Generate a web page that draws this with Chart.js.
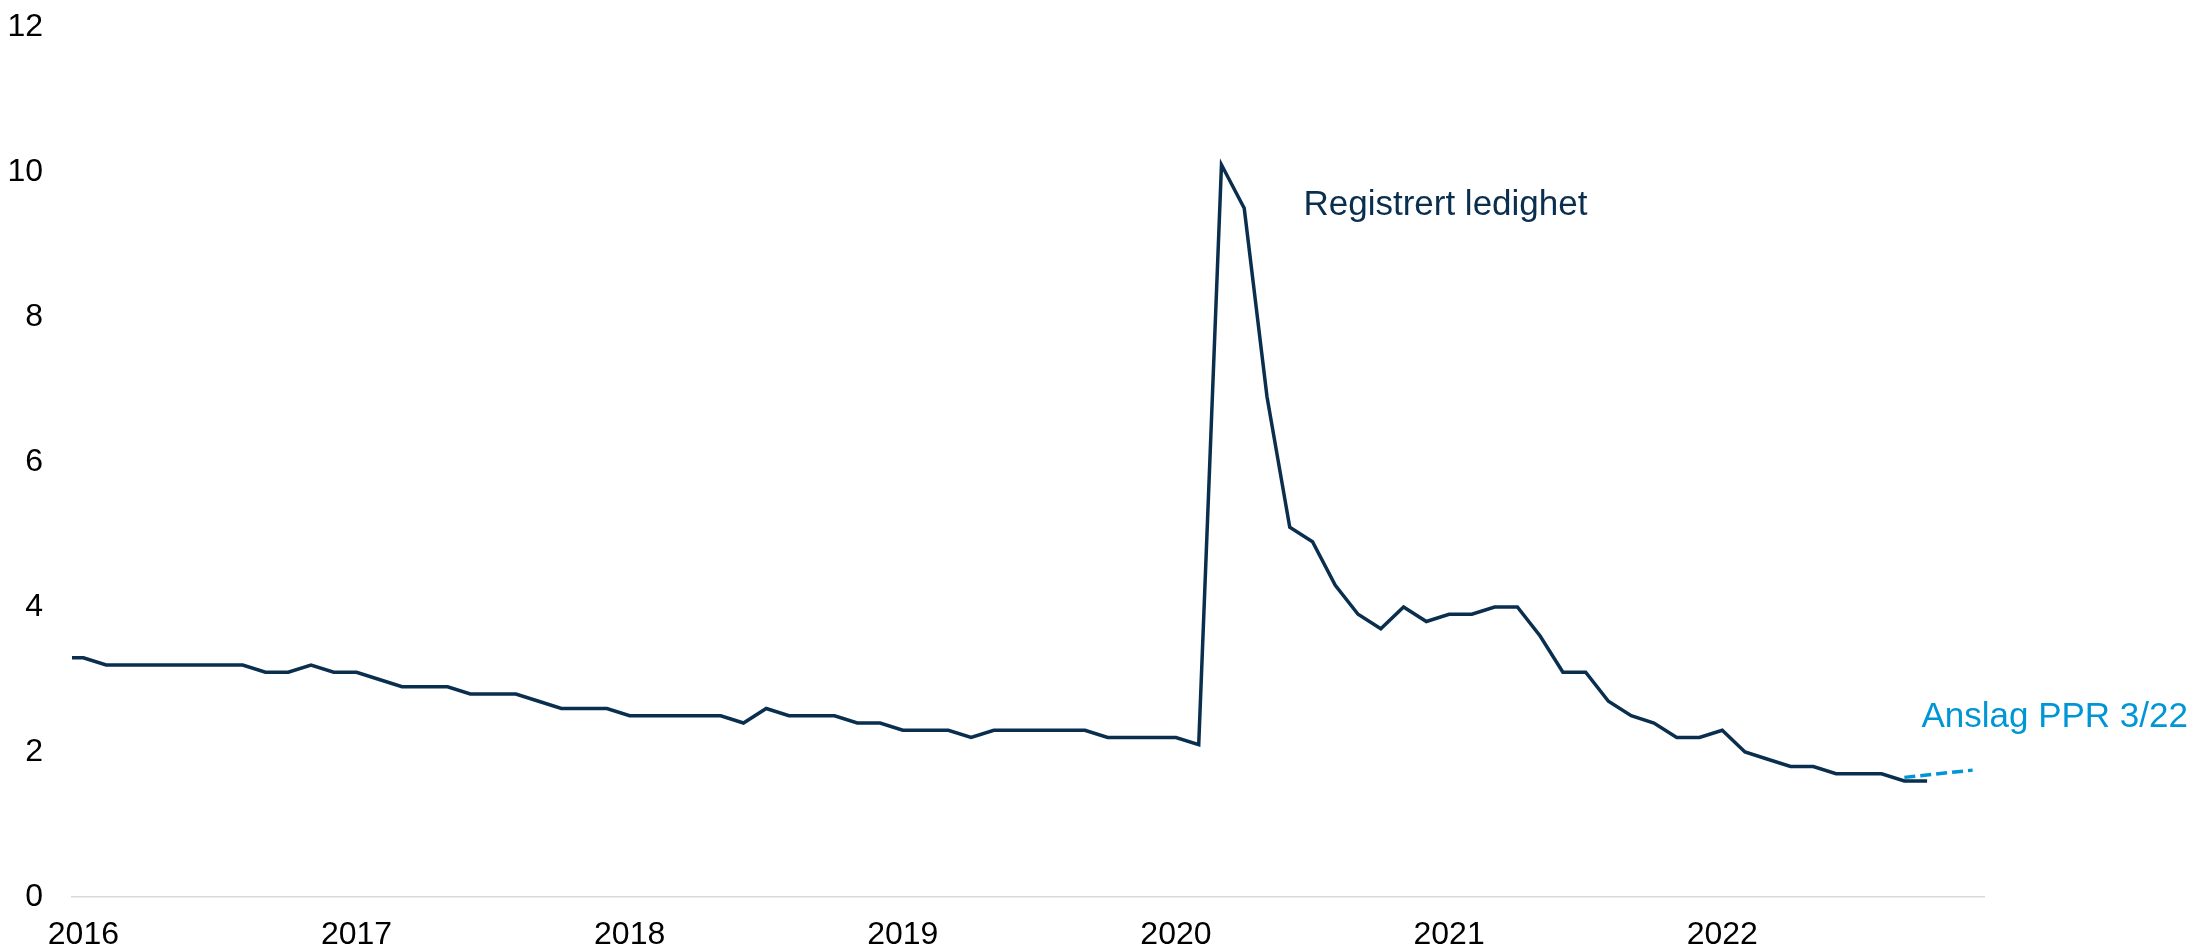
<!DOCTYPE html>
<html>
<head>
<meta charset="utf-8">
<script src="https://cdn.jsdelivr.net/npm/chart.js@4"></script>
<style>
  html, body { margin: 0; padding: 0; background: #ffffff; }
  #wrap { width: 2193px; height: 951px; }
</style>
</head>
<body>
<div id="wrap"><canvas id="ledighet" width="2193" height="951"></canvas></div>
<script>
// registrert ledighet, prosent, månedlig fra des. 2015
var firstMonth = '2015-12';
var registrertLedighet = [
    3.3,
    3.3, 3.2, 3.2, 3.2, 3.2, 3.2, 3.2, 3.2, 3.1, 3.1, 3.2, 3.1,
    3.1, 3.0, 2.9, 2.9, 2.9, 2.8, 2.8, 2.8, 2.7, 2.6, 2.6, 2.6,
    2.5, 2.5, 2.5, 2.5, 2.5, 2.4, 2.6, 2.5, 2.5, 2.5, 2.4, 2.4,
    2.3, 2.3, 2.3, 2.2, 2.3, 2.3, 2.3, 2.3, 2.3, 2.2, 2.2, 2.2,
    2.2, 2.1, 10.1, 9.5, 6.9, 5.1, 4.9, 4.3, 3.9, 3.7, 4.0, 3.8,
    3.9, 3.9, 4.0, 4.0, 3.6, 3.1, 3.1, 2.7, 2.5, 2.4, 2.2, 2.2,
    2.3, 2.0, 1.9, 1.8, 1.8, 1.7, 1.7, 1.7, 1.6, 1.6
];

// anslag PPR 3/22
var anslagMonths = ['2022-09', '2022-12'];
var anslagValues = [1.65, 1.75];

var yearLabels = ['2016', '2017', '2018', '2019', '2020', '2021', '2022'];
var yTicks = [0, 2, 4, 6, 8, 10, 12];

// month string -> index, jan 2016 = 0
function monthIndex(m) {
    var parts = m.split('-');
    return (parseInt(parts[0], 10) - 2016) * 12 + parseInt(parts[1], 10) - 1;
}

var startIdx = monthIndex(firstMonth);
var mainData = registrertLedighet.map(function (v, i) {
    return { x: startIdx + i, y: v };
});
var anslagData = anslagMonths.map(function (m, i) {
    return { x: monthIndex(m), y: anslagValues[i] };
});
var yearTicks = yearLabels.map(function (y) { return monthIndex(y + '-01'); });

var textLabels = [
    { text: 'Registrert ledighet', x: 53.6, y: 9.41, color: '#0a2e4d' },
    { text: 'Anslag PPR 3/22', x: 80.75, y: 2.35, color: '#0096d6' }
];

const labelPlugin = {
    id: 'textLabels',
    afterDatasetsDraw(chart) {
        const { ctx, scales } = chart;
        ctx.save();
        ctx.font = "35px 'Liberation Sans', Arial, sans-serif";
        ctx.textAlign = 'left';
        ctx.textBaseline = 'alphabetic';
        textLabels.forEach(function (l) {
            ctx.fillStyle = l.color;
            ctx.fillText(l.text, scales.x.getPixelForValue(l.x), scales.y.getPixelForValue(l.y));
        });
        ctx.restore();
    }
};

Chart.defaults.font.family = "'Liberation Sans', Arial, sans-serif";
Chart.defaults.font.size = 32;
Chart.defaults.color = '#000000';

const ledighetConfig = {
    type: 'line',
    data: {
        datasets: [{
            label: 'Anslag PPR 3/22',
            data: anslagData,
            borderColor: '#0096d6',
            borderWidth: 3.5,
            borderDash: [11, 5],
            pointRadius: 0,
            tension: 0,
            order: 0
        }, {
            label: 'Registrert ledighet',
            data: mainData,
            borderColor: '#0a2e4d',
            borderWidth: 3.5,
            pointRadius: 0,
            tension: 0,
            clip: { left: 0, top: 20, right: 20, bottom: 20 },
            order: 1
        }]
    },
    options: {
        responsive: false,
        animation: false,
        devicePixelRatio: 1,
        layout: {
            padding: { left: 0, right: 209, top: 27, bottom: 0 }
        },
        plugins: {
            legend: { display: false },
            tooltip: { enabled: false }
        },
        scales: {
            x: {
                type: 'linear',
                min: -0.5,
                max: 83.5,
                grid: { display: false, drawTicks: false },
                border: { display: true, color: '#d9d9d9', width: 1.5 },
                afterBuildTicks: (scale) => {
                    scale.ticks = yearTicks.map(function (v) { return { value: v }; });
                },
                afterFit: (scale) => {
                    scale.height = 54;
                    scale.paddingLeft = 0;
                    scale.paddingRight = 0;
                },
                ticks: {
                    autoSkip: false,
                    maxRotation: 0,
                    padding: 19,
                    callback: function (value) {
                        return yearLabels[yearTicks.indexOf(value)];
                    }
                }
            },
            y: {
                min: 0,
                max: 12,
                grid: { display: false, drawTicks: false },
                border: { display: false },
                afterBuildTicks: (scale) => {
                    scale.ticks = yTicks.map(function (v) { return { value: v }; });
                },
                afterFit: (scale) => {
                    scale.width = 72;
                    // label half-heights fit inside the padding already
                    scale.paddingTop = 0;
                    scale.paddingBottom = 0;
                },
                ticks: {
                    padding: 29
                }
            }
        }
    },
    plugins: [labelPlugin]
};

const ledighetChart = new Chart(
    document.getElementById('ledighet'),
    ledighetConfig
);
</script>
</body>
</html>
